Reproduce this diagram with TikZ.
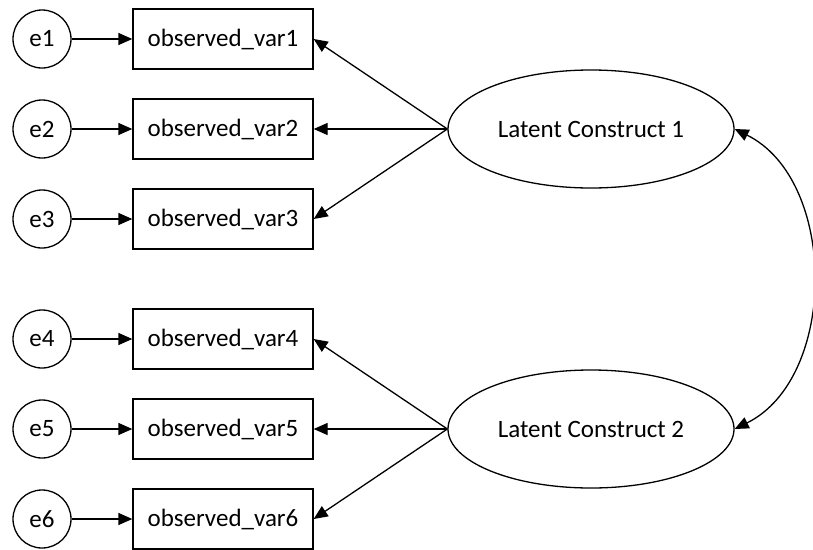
\documentclass[tikz,border=0pt]{standalone}
\usepackage{fontspec}
\setmainfont{Carlito}
\usetikzlibrary{arrows.meta,shapes.geometric}
\begin{document}
\begin{tikzpicture}[x=1pt,y=-1pt,
  every node/.style={font=\fontsize{25}{30}\selectfont, line width=1.3pt},
  errc/.style={draw, circle, minimum size=58pt, inner sep=0pt},
  obsbox/.style={draw, rectangle, minimum width=180pt, minimum height=60pt, inner sep=0pt},
  latent/.style={draw, ellipse, minimum width=286pt, minimum height=118pt, inner sep=0pt},
  tip/.tip={Triangle[length=14pt,width=12pt]},
  conn/.style={line width=1.3pt, -tip}]
\useasboundingbox (0,0) rectangle (813,549);
\node[errc] (e1) at (42,39) {e1};
\node[errc] (e2) at (42,129) {e2};
\node[errc] (e3) at (42,219) {e3};
\node[errc] (e4) at (42,339) {e4};
\node[errc] (e5) at (42,429) {e5};
\node[errc] (e6) at (42,519) {e6};
\node[obsbox] (o1) at (223,39) {observed\_var1};
\node[obsbox] (o2) at (223,129) {observed\_var2};
\node[obsbox] (o3) at (223,219) {observed\_var3};
\node[obsbox] (o4) at (223,339) {observed\_var4};
\node[obsbox] (o5) at (223,429) {observed\_var5};
\node[obsbox] (o6) at (223,519) {observed\_var6};
\node[latent] (L1) at (591,129) {Latent Construct 1};
\node[latent] (L2) at (591,429) {Latent Construct 2};
\foreach \i in {1,...,6} {\draw[conn] (e\i.east) -- (o\i.west);}
\foreach \i in {1,2,3} {\draw[conn] (L1.west) -- (o\i.east);}
\foreach \i in {4,5,6} {\draw[conn] (L2.west) -- (o\i.east);}
\draw[line width=1.3pt, tip-tip] (L2.east) .. controls (838,378) and (838,180) .. (L1.east);
\end{tikzpicture}
\end{document}
